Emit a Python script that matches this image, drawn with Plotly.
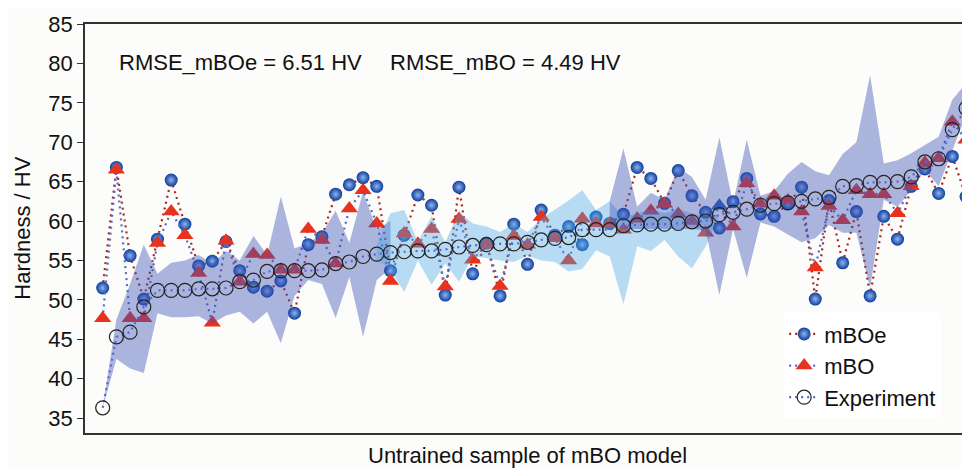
import plotly.graph_objects as go

# ---------------- data ----------------
sample = list(range(1, 65))

experiment = [36.3, 45.3, 45.9, 49.1, 51.2, 51.2, 51.2, 51.4, 51.4, 51.5,
              52.3, 52.5, 53.6, 53.7, 53.7, 53.7, 53.8, 54.6, 54.8, 55.5,
              55.8, 56.0, 56.1, 56.2, 56.2, 56.4, 56.7, 56.9, 57.0, 57.1,
              57.1, 57.3, 57.6, 57.8, 57.9, 58.9, 58.9, 58.9, 59.4, 59.5,
              59.6, 59.6, 59.7, 59.9, 60.0, 60.8, 61.1, 61.5, 62.0, 62.2,
              62.3, 62.5, 62.8, 63.0, 64.4, 64.5, 64.9, 64.9, 65.0, 65.6,
              67.5, 67.9, 71.6, 74.3]

mboe = [51.5, 66.8, 55.6, 50.1, 57.7, 65.2, 59.6, 54.3, 54.9, 57.4,
        53.7, 51.6, 51.1, 52.4, 48.3, 57.0, 58.0, 63.4, 64.6, 65.5,
        64.4, 53.7, 58.2, 63.3, 62.0, 50.6, 64.3, 53.3, 57.2, 50.5,
        59.6, 54.5, 61.4, 58.2, 59.3, 57.0, 60.5, 59.7, 60.85, 66.8,
        65.4, 62.25, 66.4, 63.2, 61.1, 59.1, 62.45, 65.4, 60.9, 60.6,
        62.2, 64.3, 50.1, 62.6, 54.7, 61.2, 50.5, 60.6, 57.7, 64.4,
        66.6, 63.5, 68.2, 63.1]

mbo = [47.65, 66.5, 47.65, 47.65, 57.2, 61.2, 58.2, 53.4, 47.1, 57.5,
       52.3, 55.8, 55.7, 53.8, 53.8, 59.0, 57.6, 54.6, 61.6, 63.9,
       59.7, 52.4, 58.4, 57.1, 59.0, 51.7, 60.25, 55.1, 57.0, 51.75,
       58.1, 57.0, 60.5, 57.8, 55.0, 60.3, 59.7, 59.7, 58.9, 60.3,
       61.3, 62.2, 60.9, 60.0, 58.5, 61.95, 59.3, 64.8, 62.2, 63.2,
       62.6, 61.2, 54.1, 61.9, 60.1, 63.9, 63.4, 63.4, 61.0, 64.4,
       67.4, 67.95, 72.6, 70.3]

# uncertainty band (purple), samples 1-22
band1_x = list(range(1, 23))
band1_up = [36.3, 47.5, 52.0, 57.0, 53.3, 54.7, 55.0, 55.7, 54.6, 56.2, 55.0,
            58.1, 55.7, 63.1, 56.5, 57.2, 58.4, 61.3, 57.2, 63.7, 58.9, 60.0]
band1_lo = [36.3, 42.5, 41.3, 40.7, 48.3, 47.8, 47.8, 47.9, 47.0, 48.0, 48.5,
            47.0, 48.5, 44.5, 50.5, 52.5, 52.0, 47.7, 52.9, 45.3, 52.5, 54.0]

# uncertainty band (light blue), samples 21-46
band2_x = list(range(21, 47))
band2_up = [57.0, 61.0, 61.4, 57.4, 60.6, 57.3, 61.2, 59.7, 59.3, 58.6, 59.7, 58.6, 60.3,
            61.4, 62.6, 63.9, 61.4, 62.5, 60.5, 61.0, 61.5, 61.0, 61.5, 61.0, 60.5, 60.8]
band2_lo = [55.0, 53.8, 51.0, 55.0, 51.9, 54.6, 52.3, 55.5, 55.3, 55.0, 54.8, 55.6, 55.0,
            54.8, 53.6, 53.9, 56.3, 55.5, 49.4, 56.8, 56.2, 57.6, 55.5, 54.0, 56.8, 60.8]

# uncertainty band (purple), samples 38-64
band3_x = list(range(38, 65))
band3_up = [62.5, 69.2, 61.8, 63.6, 62.7, 66.8, 65.6, 62.7, 70.6, 62.2, 70.3, 63.2, 63.8,
            66.0, 67.5, 66.3, 65.8, 68.5, 70.0, 78.5, 67.3, 67.7, 68.6, 69.6, 70.7, 75.4, 77.5]
band3_lo = [59.5, 59.0, 59.0, 59.0, 59.0, 59.0, 59.0, 58.8, 50.6, 59.0, 52.8, 59.8, 59.3,
            58.3, 57.3, 57.8, 59.5, 58.5, 58.5, 51.5, 62.7, 61.8, 63.9, 66.5, 64.4, 69.0, 73.5]

y_ticks = [35, 40, 45, 50, 55, 60, 65, 70, 75, 80, 85]
rmse_labels = ["RMSE_mBOe = 6.51 HV", "RMSE_mBO = 4.49 HV"]

FONT = "Liberation Sans, Arial, sans-serif"
PURPLE = "rgba(60,80,180,0.42)"
LIGHT = "rgba(70,165,228,0.38)"

tri_colors = ["#e8321e"] * len(mbo)
tri_colors[45] = "#2f5fb5"

fig = go.Figure()

fig.add_trace(go.Scatter(
    x=sample, y=mboe, name="mBOe", mode="lines+markers",
    line=dict(color="#a8281c", width=2.2, dash="2px,4px"),
    marker=dict(symbol="circle", size=13, color="#0c3d9c",
                gradient=dict(type="radial", color="#8fb4ee"),
                line=dict(width=0)),
))
fig.add_trace(go.Scatter(
    x=sample, y=mbo, name="mBO", mode="lines+markers",
    line=dict(color="#5868cc", width=2.2, dash="2px,4px"),
    marker=dict(symbol="triangle-up", size=15, color=tri_colors, line=dict(width=0)),
))

for bx, bu, bl, col in [(band1_x, band1_up, band1_lo, PURPLE),
                        (band2_x, band2_up, band2_lo, LIGHT),
                        (band3_x, band3_up, band3_lo, PURPLE)]:
    fig.add_trace(go.Scatter(
        x=bx + bx[::-1], y=bu + bl[::-1], mode="lines", fill="toself",
        fillcolor=col, line=dict(width=0), hoverinfo="skip", showlegend=False,
    ))

fig.add_trace(go.Scatter(
    x=sample, y=experiment, name="Experiment", mode="lines+markers",
    line=dict(color="#5868cc", width=2.2, dash="2px,4px"),
    marker=dict(symbol="circle-open", size=14, color="#222222", line=dict(width=1.2)),
))

annotations = [
    dict(text=rmse_labels[0], x=0.036, y=0.907, xref="paper", yref="paper",
         xanchor="left", yanchor="middle", showarrow=False, font=dict(size=22)),
    dict(text=rmse_labels[1], x=0.342, y=0.907, xref="paper", yref="paper",
         xanchor="left", yanchor="middle", showarrow=False, font=dict(size=22)),
    dict(text="Hardness / HV", x=-0.071, y=0.5, xref="paper", yref="paper",
         textangle=-90, xanchor="center", yanchor="middle", showarrow=False,
         font=dict(size=22)),
    dict(text="Untrained sample of mBO model", x=0.5, y=-0.055, xref="paper",
         yref="paper", xanchor="center", yanchor="middle", showarrow=False,
         font=dict(size=22)),
]

# the page places the figure 8 px in from the top-left corner
fig.update_layout(
    width=962, height=460,
    margin=dict(l=77, r=0, t=16, b=35, pad=0, autoexpand=False),
    paper_bgcolor="#fcfcfa", plot_bgcolor="#fcfcfa",
    font=dict(family=FONT, size=22, color="#111111"),
    showlegend=True,
    legend=dict(x=0.790, y=0.293, xanchor="left", yanchor="top",
                bgcolor="#ffffff", borderwidth=0, font=dict(size=22),
                tracegroupgap=0),
    annotations=annotations,
    xaxis=dict(range=[-0.29, 64.29], showgrid=False, zeroline=False,
               showticklabels=False, ticks="", showline=True, mirror=True,
               linecolor="#333333", linewidth=1.5),
    yaxis=dict(range=[33.1, 85.0], tickvals=y_ticks, showgrid=False,
               zeroline=False, ticks="outside", ticklen=6, tickwidth=1.2,
               tickcolor="#333333", showline=True, linecolor="#333333",
               linewidth=1.5, tickfont=dict(size=22)),
)

fig.write_html("out.html")
